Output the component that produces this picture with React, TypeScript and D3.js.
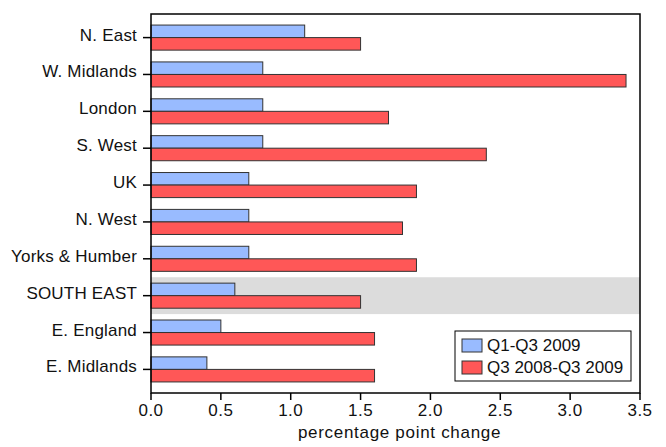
import { useEffect } from 'react';
import * as d3 from 'd3';

const regions = [
  'N. East',
  'W. Midlands',
  'London',
  'S. West',
  'UK',
  'N. West',
  'Yorks & Humber',
  'SOUTH EAST',
  'E. England',
  'E. Midlands',
];
const q1q3 = [1.1, 0.8, 0.8, 0.8, 0.7, 0.7, 0.7, 0.6, 0.5, 0.4];
const yearOnYear = [1.5, 3.4, 1.7, 2.4, 1.9, 1.8, 1.9, 1.5, 1.6, 1.6];
const xTicks = [0, 0.5, 1, 1.5, 2, 2.5, 3, 3.5];
const highlight = 'SOUTH EAST';
const seriesNames = ['Q1-Q3 2009', 'Q3 2008-Q3 2009'];

const W = 666;
const H = 447;
const M = { top: 14, right: 26, bottom: 54, left: 151 };
const BLUE = '#99bbff';
const RED = '#ff5757';
const FONT = '"Liberation Sans", Arial, sans-serif';

export default function App() {
  useEffect(() => {
    document.body.style.margin = '0';
  }, []);

  const iW = W - M.left - M.right;
  const iH = H - M.top - M.bottom;

  const x = d3.scaleLinear([0, 3.5], [0, iW]);
  const y = d3.scaleBand<string>(regions, [0, iH]).paddingInner(0).paddingOuter(0.14);
  const step = y.step();
  const barH = step * 0.34;
  const mid = (r: string) => (y(r) ?? 0) + y.bandwidth() / 2;

  return (
    <svg width={W} height={H} style={{ display: 'block', fontFamily: FONT }}>
      <rect width={W} height={H} fill="#fff" />
      <g transform={`translate(${M.left},${M.top})`}>
        {/* highlighted region */}
        <rect x={0} y={y(highlight)} width={iW} height={step} fill="#dcdcdc" />

        {regions.map((r, i) => (
          <g key={r}>
            <rect
              x={x(0)}
              y={mid(r) - barH}
              width={x(q1q3[i]) - x(0)}
              height={barH}
              fill={BLUE}
              stroke="#333"
              strokeWidth={1}
            />
            <rect
              x={x(0)}
              y={mid(r)}
              width={x(yearOnYear[i]) - x(0)}
              height={barH}
              fill={RED}
              stroke="#333"
              strokeWidth={1}
            />
          </g>
        ))}

        {/* frame */}
        <rect x={0} y={0} width={iW} height={iH} fill="none" stroke="#000" strokeWidth={1.5} />

        {/* y axis */}
        {regions.map(r => (
          <g key={r} transform={`translate(0,${mid(r)})`}>
            <line x1={-8} x2={0} y1={0} y2={0} stroke="#000" strokeWidth={1.5} />
            <text x={-14} y={3} textAnchor="end" fontSize={17} letterSpacing={0.2} fill="#111">
              {r}
            </text>
          </g>
        ))}

        {/* x axis */}
        {xTicks.map(t => (
          <g key={t} transform={`translate(${x(t)},${iH})`}>
            <line x1={0} x2={0} y1={0} y2={7} stroke="#000" strokeWidth={1.5} />
            <text y={23} textAnchor="middle" fontSize={17} letterSpacing={0.5} fill="#111">
              {t.toFixed(1)}
            </text>
          </g>
        ))}
        <text x={iW / 2 + 4} y={iH + 45} textAnchor="middle" fontSize={17} letterSpacing={0.7} fill="#111">
          percentage point change
        </text>

        {/* legend */}
        <g transform={`translate(${455 - M.left},${331 - M.top})`}>
          <rect width={176} height={50} fill="#fff" stroke="#000" strokeWidth={1} />
          {seriesNames.map((s, i) => (
            <g key={s} transform={`translate(7,${8 + i * 22})`}>
              <rect width={20} height={13} fill={i === 0 ? BLUE : RED} stroke="#333" strokeWidth={1} />
              <text x={25} y={12} fontSize={17} fill="#111">
                {s}
              </text>
            </g>
          ))}
        </g>
      </g>
    </svg>
  );
}
